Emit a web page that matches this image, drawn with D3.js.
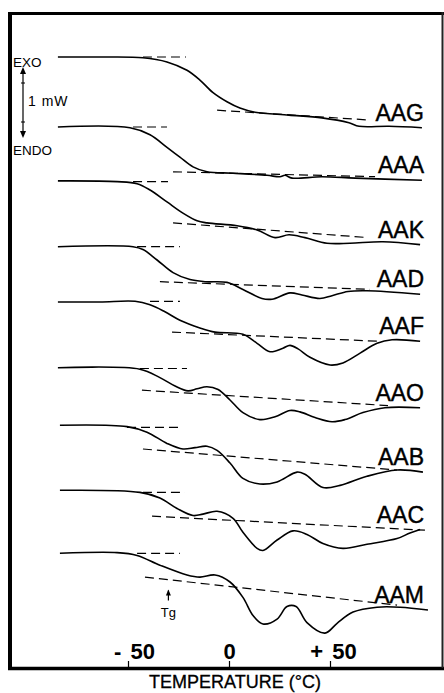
<!DOCTYPE html>
<html>
<head>
<meta charset="utf-8">
<script src="https://cdn.jsdelivr.net/npm/d3@7"></script>
<style>
  body { margin: 0; background: #fff; }
  svg { display: block; font-family: "Liberation Sans", Arial, Helvetica, sans-serif; }
</style>
</head>
<body>
<svg id="chart" width="444" height="693"></svg>
<script>
// sample names, top to bottom
const names = ["AAG", "AAA", "AAK", "AAD", "AAF", "AAO", "AAB", "AAC", "AAM"];

// vertical offset of each trace (mW)
const offsets = [0, -1.0, -1.77, -2.71, -3.5, -4.44, -5.26, -6.19, -7.09];

// heat flow relative to start of each trace: [temperature °C, mW]
const sAAG = [[-84.7, 0], [-63.9, 0], [-42.6, -0.01], [-30.7, -0.07], [-20.8, -0.19], [-14.4, -0.33], [-7.9, -0.51],
  [-1.0, -0.64], [5.4, -0.73], [12.9, -0.79], [29.7, -0.83], [46.0, -0.87], [59.4, -0.94], [64.4, -0.99],
  [79.2, -0.99], [95.5, -1.01]];
const sAAA = [[-84.7, 0], [-49.0, -0.01], [-39.1, -0.11], [-30.7, -0.29], [-24.3, -0.43], [-17.8, -0.57], [-10.9, -0.64],
  [2.0, -0.66], [18.8, -0.69], [25.2, -0.71], [27.7, -0.69], [31.2, -0.73], [46.0, -0.71], [62.4, -0.73], [95.5, -0.76]];
const sAAK = [[-84.7, 0], [-55.4, -0.01], [-45.5, -0.04], [-39.1, -0.13], [-30.7, -0.30], [-22.8, -0.46], [-15.8, -0.57],
  [-10.9, -0.60], [4.0, -0.64], [13.9, -0.70], [22.8, -0.81], [29.7, -0.77], [37.6, -0.81], [48.5, -0.89],
  [59.9, -0.89], [76.2, -0.87], [94.6, -0.91]];
const sAAD = [[-84.7, 0], [-47.5, 0], [-42.6, -0.04], [-35.6, -0.19], [-27.7, -0.37], [-19.3, -0.47], [-11.9, -0.50],
  [-1.0, -0.51], [6.9, -0.61], [16.3, -0.74], [21.3, -0.75], [30.2, -0.66], [36.1, -0.69], [45.0, -0.74],
  [51.0, -0.70], [58.9, -0.64], [68.3, -0.63], [94.6, -0.68]];
const sAAF = [[-84.7, 0], [-63.9, 0], [-46.5, 0.01], [-39.1, -0.04], [-31.7, -0.14], [-24.3, -0.26], [-14.4, -0.37],
  [-6.9, -0.43], [6.9, -0.46], [13.9, -0.59], [20.3, -0.71], [26.7, -0.66], [30.2, -0.62], [34.2, -0.67],
  [40.1, -0.79], [50.0, -0.90], [56.4, -0.87], [64.9, -0.73], [73.3, -0.59], [80.7, -0.54], [94.6, -0.56]];
const sAAO = [[-84.7, 0], [-44.1, -0.02], [-34.2, -0.14], [-26.7, -0.26], [-20.3, -0.33], [-15.8, -0.30], [-10.9, -0.27],
  [-5.4, -0.31], [0.5, -0.46], [6.9, -0.64], [15.3, -0.74], [22.8, -0.70], [30.2, -0.61], [35.1, -0.63],
  [42.6, -0.71], [51.0, -0.77], [57.4, -0.74], [66.3, -0.64], [77.2, -0.57], [94.6, -0.57]];
const sAAB = [[-83.7, 0], [-50.5, -0.02], [-40.6, -0.10], [-30.7, -0.26], [-22.8, -0.34], [-16.8, -0.32], [-10.9, -0.30],
  [-5.9, -0.36], [0.5, -0.54], [6.9, -0.76], [15.3, -0.84], [23.8, -0.81], [33.7, -0.67], [37.6, -0.70],
  [46.5, -0.89], [55.0, -0.86], [68.3, -0.73], [83.2, -0.64], [96.0, -0.67]];
const sAAC = [[-83.7, 0], [-44.1, -0.03], [-34.2, -0.11], [-25.7, -0.26], [-17.8, -0.36], [-12.9, -0.34], [-5.9, -0.30],
  [2.0, -0.40], [6.9, -0.60], [13.9, -0.83], [16.8, -0.86], [23.8, -0.71], [31.7, -0.58], [38.6, -0.63],
  [46.5, -0.76], [56.4, -0.83], [68.3, -0.77], [83.2, -0.69], [89.6, -0.61], [94.6, -0.56]];
const sAAM = [[-83.7, 0], [-55.4, 0.01], [-45.5, -0.03], [-34.2, -0.17], [-20.8, -0.31], [-14.4, -0.34], [-6.9, -0.31],
  [0.5, -0.41], [6.9, -0.63], [11.9, -0.89], [16.8, -1.01], [23.8, -0.94], [28.7, -0.76], [33.2, -0.76],
  [38.6, -0.99], [47.5, -1.14], [53.5, -1.00], [61.4, -0.84], [73.3, -0.77], [84.7, -0.77], [98.5, -0.81]];
const series = [sAAG, sAAA, sAAK, sAAD, sAAF, sAAO, sAAB, sAAC, sAAM];

// glassy baseline extrapolation: [T start, T end, mW]
const upperBase = [[-42.6, -21.3, 0], [-47.5, -30.7, 0], [-47.5, -30.2, -0.01], [-45.5, -24.3, 0], [-39.1, -24.3, 0.01],
  [-44.1, -20.8, -0.01], [-50.5, -24.3, -0.03], [-42.6, -21.8, -0.03], [-45.5, -24.3, 0]];
// rubbery baseline: [T1, mW1, T2, mW2]
const lowerBase = [[-5.9, -0.76, 69.3, -0.90], [-27.7, -0.64, 72.3, -0.71], [-27.7, -0.60, 68.8, -0.81],
  [-34.2, -0.50, 69.8, -0.61], [-28.2, -0.43, 73.3, -0.56], [-43.1, -0.32, 78.7, -0.54],
  [-42.6, -0.34, 83.2, -0.64], [-38.1, -0.37, 97.0, -0.57], [-41.6, -0.34, 83.2, -0.74]];

const tickValues = [-50, 0, 50];
const tickLabels = ["- 50", "0", "+ 50"];
const tgTemp = -30;

const svg = d3.select("#chart");

const x = d3.scaleLinear().domain([-50, 50]).range([128, 330]);
const y = d3.scaleLinear().domain([0, -1]).range([57, 127]);

// frame
svg.append("line").attr("x1", 10).attr("x2", 10).attr("y1", 12).attr("y2", 670)
  .attr("stroke", "#000").attr("stroke-width", 4);
svg.append("line").attr("x1", 8).attr("x2", 444).attr("y1", 13.5).attr("y2", 13.5)
  .attr("stroke", "#000").attr("stroke-width", 3);
svg.append("line").attr("x1", 8).attr("x2", 444).attr("y1", 668.5).attr("y2", 668.5)
  .attr("stroke", "#000").attr("stroke-width", 3.5);
svg.append("line").attr("x1", 442.5).attr("x2", 442.5).attr("y1", 12).attr("y2", 668)
  .attr("stroke", "#222").attr("stroke-width", 2);

// temperature axis (ticks point inward)
const axis = svg.append("g")
  .attr("transform", "translate(0,667)")
  .call(d3.axisBottom(x).tickValues(tickValues).tickSize(-6)
    .tickFormat((d, i) => tickLabels[i]));
axis.select(".domain").remove();
axis.selectAll(".tick line").attr("stroke", "#000").attr("stroke-width", 1.2);
axis.selectAll(".tick text")
  .attr("y", -8).attr("dy", 0)
  .attr("dx", (d, i) => [6, 0, 3][i])
  .attr("font-size", 22).attr("font-weight", "bold")
  .attr("font-family", "Liberation Sans, Arial, sans-serif")
  .attr("word-spacing", 3)
  .attr("fill", "#000");

svg.append("text").attr("x", 235).attr("y", 688).attr("text-anchor", "middle")
  .attr("font-size", 18).attr("stroke", "#000").attr("stroke-width", 0.3)
  .text("TEMPERATURE (°C)");

const line = d3.line()
  .x(d => x(d[0]))
  .y(d => y(d[1]))
  .curve(d3.curveCatmullRom.alpha(0.5));

series.forEach((s, i) => {
  const off = offsets[i];
  svg.append("path")
    .datum(s.map(p => [p[0], p[1] + off]))
    .attr("d", line)
    .attr("fill", "none")
    .attr("stroke", "#000")
    .attr("stroke-width", 1.6);

  const ub = upperBase[i];
  svg.append("line")
    .attr("x1", x(ub[0])).attr("x2", x(ub[1]))
    .attr("y1", y(ub[2] + off)).attr("y2", y(ub[2] + off))
    .attr("stroke", "#000").attr("stroke-width", 1.2).attr("stroke-dasharray", "9,5");

  const lb = lowerBase[i];
  svg.append("line")
    .attr("x1", x(lb[0])).attr("x2", x(lb[2]))
    .attr("y1", y(lb[1] + off)).attr("y2", y(lb[3] + off))
    .attr("stroke", "#000").attr("stroke-width", 1.2).attr("stroke-dasharray", "9,5");

  const last = s[s.length - 1];
  svg.append("text")
    .attr("x", 424)
    .attr("y", y(last[1] + off) - 7)
    .attr("text-anchor", "end")
    .attr("font-size", 23)
    .attr("stroke", "#000").attr("stroke-width", 0.4)
    .text(names[i]);
});

// EXO / ENDO scale bar
svg.append("text").attr("x", 13).attr("y", 67).attr("font-size", 13.5).text("EXO");
svg.append("text").attr("x", 13).attr("y", 155).attr("font-size", 13.5).text("ENDO");
svg.append("text").attr("x", 28).attr("y", 106).attr("font-size", 14).attr("letter-spacing", 1).text("1 mW");
svg.append("line").attr("x1", 23).attr("x2", 23).attr("y1", 70).attr("y2", 135)
  .attr("stroke", "#000").attr("stroke-width", 1.2);
svg.append("path").attr("d", "M23,67 L20,74 L26,74 Z").attr("fill", "#000");
svg.append("path").attr("d", "M23,138 L20,131 L26,131 Z").attr("fill", "#000");
[83, 122].forEach(v => {
  svg.append("line").attr("x1", 21).attr("x2", 25).attr("y1", v).attr("y2", v)
    .attr("stroke", "#000").attr("stroke-width", 1);
});

// Tg marker under last trace
const tgY = y(offsets[8] - 0.53);
svg.append("line").attr("x1", x(tgTemp)).attr("x2", x(tgTemp))
  .attr("y1", tgY).attr("y2", tgY + 10).attr("stroke", "#000").attr("stroke-width", 1.2);
svg.append("path")
  .attr("d", `M${x(tgTemp)},${tgY - 1} L${x(tgTemp) - 2.5},${tgY + 5} L${x(tgTemp) + 2.5},${tgY + 5} Z`)
  .attr("fill", "#000");
svg.append("text").attr("x", x(tgTemp)).attr("y", tgY + 27)
  .attr("text-anchor", "middle").attr("font-size", 13).text("Tg");
</script>
</body>
</html>
